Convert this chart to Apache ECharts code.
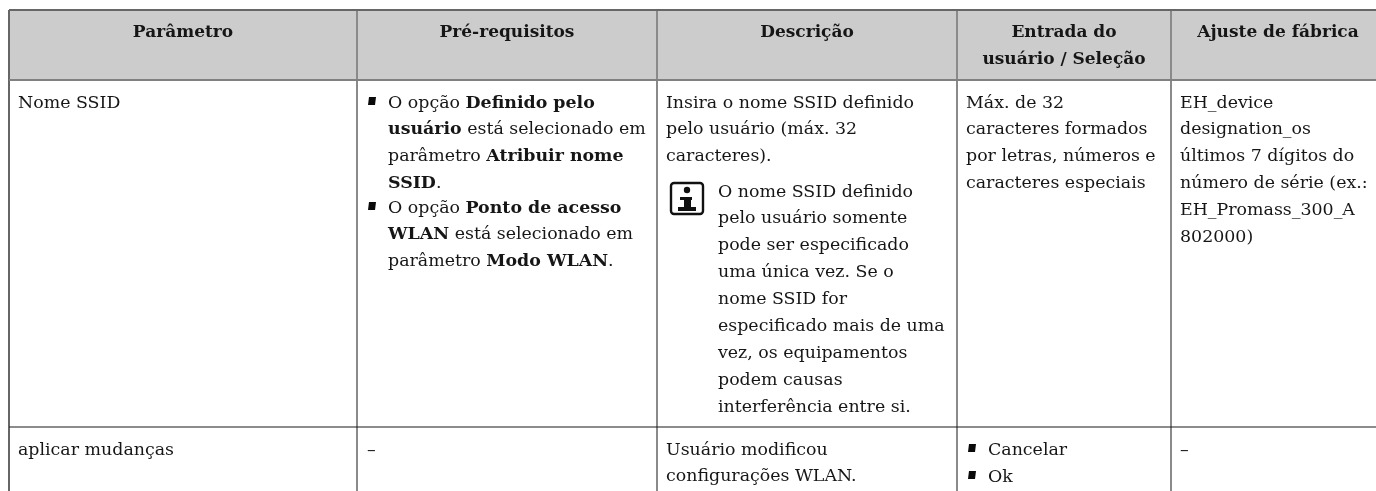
<!DOCTYPE html>
<html>
<head>
<meta charset="utf-8">
<style>
  html, body { margin: 0; padding: 0; background: #fff; }
  #main { width: 1376px; height: 491px; }
</style>
</head>
<body>
<div id="main"></div>
<script src="https://cdn.jsdelivr.net/npm/echarts@6/dist/echarts.min.js"></script>
<script>
// ================= table text =================
const headerParam = ['Parâmetro']
const headerPre = ['Pré-requisitos']
const headerDesc = ['Descrição']
const headerInput = ['Entrada do', 'usuário / Seleção']
const headerFactory = ['Ajuste de fábrica']

const ssidParam = ['Nome SSID']
const ssidPreFirst = ['O opção {b|Definido pelo}', '{b|usuário} está selecionado em', 'parâmetro {b|Atribuir nome}', '{b|SSID}.']
const ssidPreSecond = ['O opção {b|Ponto de acesso}', '{b|WLAN} está selecionado em', 'parâmetro {b|Modo WLAN}.']
const ssidDesc = ['Insira o nome SSID definido', 'pelo usuário (máx. 32', 'caracteres).']
const ssidNote = ['O nome SSID definido', 'pelo usuário somente', 'pode ser especificado', 'uma única vez. Se o', 'nome SSID for', 'especificado mais de uma', 'vez, os equipamentos', 'podem causas', 'interferência entre si.']
const ssidInput = ['Máx. de 32', 'caracteres formados', 'por letras, números e', 'caracteres especiais']
const ssidFactory = ['EH_device', 'designation_os', 'últimos 7 dígitos do', 'número de série (ex.:', 'EH_Promass_300_A', '802000)']

const applyParam = ['aplicar mudanças']
const applyPre = ['–']
const applyDesc = ['Usuário modificou', 'configurações WLAN.']
const applyInputFirst = ['Cancelar']
const applyInputSecond = ['Ok']
const applyFactory = ['–']

// ================= layout =================
const colEdges = [9, 357, 657, 957, 1171, 1376]
const rowEdges = [10, 80, 427, 491]
const lineHeight = 26.9
const fontFamily = '"DejaVu Serif", serif'
const headSize = 17
const bodySize = 17.4
const textColor = '#161616'

// 每个文字块：行数组、起始 x、首行 y、对齐、是否带项目符号
const blocks = [
  { lines: headerParam, x: 183, y: 33, align: 'center', bold: true },
  { lines: headerPre, x: 507, y: 33, align: 'center', bold: true },
  { lines: headerDesc, x: 807, y: 33, align: 'center', bold: true },
  { lines: headerInput, x: 1064, y: 33, align: 'center', bold: true },
  { lines: headerFactory, x: 1278, y: 33, align: 'center', bold: true },
  { lines: ssidParam, x: 18, y: 103 },
  { lines: ssidPreFirst, x: 388, y: 103, bullet: 368 },
  { lines: ssidPreSecond, x: 388, y: 208, bullet: 368 },
  { lines: ssidDesc, x: 666, y: 103 },
  { lines: ssidNote, x: 718, y: 192 },
  { lines: ssidInput, x: 966, y: 103 },
  { lines: ssidFactory, x: 1180, y: 103 },
  { lines: applyParam, x: 18, y: 450 },
  { lines: applyPre, x: 367, y: 450 },
  { lines: applyDesc, x: 666, y: 450 },
  { lines: applyInputFirst, x: 988, y: 450, bullet: 968 },
  { lines: applyInputSecond, x: 988, y: 477, bullet: 968 },
  { lines: applyFactory, x: 1180, y: 450 },
]

const noteIcon = { x: 671, y: 183, w: 32, h: 31 }

function renderTable(params, api) {
  const pt = (x, y) => api.coord([x, y])
  const children = []
  const rect = (x, y, w, h, fill, r) => {
    const p = pt(x, y)
    children.push({ type: 'rect', shape: { x: p[0], y: p[1], width: w, height: h, r: r || 0 }, style: { fill: fill } })
  }
  const line = (x1, y1, x2, y2, color, width) => {
    const a = pt(x1, y1)
    const b = pt(x2, y2)
    children.push({ type: 'line', shape: { x1: a[0], y1: a[1], x2: b[0], y2: b[1] }, style: { stroke: color, lineWidth: width } })
  }
  const right = colEdges[colEdges.length - 1]
  const bottom = rowEdges[rowEdges.length - 1]

  // 表头底色和表格线
  rect(colEdges[0], rowEdges[0], right - colEdges[0], rowEdges[1] - rowEdges[0], '#cccccc')
  colEdges.slice(1, 5).forEach((x) => line(x, rowEdges[0], x, bottom, '#8a8a8a', 2))
  line(colEdges[0], rowEdges[0], colEdges[0], bottom, '#666666', 2)
  line(colEdges[0], rowEdges[0], right, rowEdges[0], '#666666', 2)
  line(colEdges[0], rowEdges[1], right, rowEdges[1], '#808080', 2)
  line(colEdges[0], rowEdges[2], right, rowEdges[2], '#1a1a1a', 1.2)

  // 文字
  blocks.forEach((b) => {
    b.lines.forEach((text, i) => {
      const p = pt(b.x, b.y + i * lineHeight)
      const size = b.bold ? headSize : bodySize
      children.push({
        type: 'text',
        style: {
          x: p[0],
          y: p[1],
          text: text,
          fill: textColor,
          fontFamily: fontFamily,
          fontSize: size,
          fontWeight: b.bold ? 'bold' : 'normal',
          align: b.align || 'left',
          verticalAlign: 'middle',
          rich: { b: { fontFamily: fontFamily, fontSize: size, fontWeight: 'bold', fill: textColor } },
        },
      })
    })
    if (b.bullet) {
      // 项目符号略带倾斜
      const c = pt(b.bullet, b.y - 2)
      children.push({
        type: 'polygon',
        shape: { points: [[c[0] + 1, c[1] - 4], [c[0] + 8, c[1] - 4], [c[0] + 7, c[1] + 4], [c[0], c[1] + 4]] },
        style: { fill: '#0a0a0a' },
      })
    }
  })

  // 提示图标
  const ic = noteIcon
  const o = pt(ic.x, ic.y)
  children.push({
    type: 'rect',
    shape: { x: o[0], y: o[1], width: ic.w, height: ic.h, r: 3 },
    style: { fill: 'none', stroke: '#111111', lineWidth: 2.4 },
  })
  children.push({ type: 'circle', shape: { cx: o[0] + 16, cy: o[1] + 7, r: 3.2 }, style: { fill: '#111111' } })
  rect(ic.x + 9, ic.y + 14, 12, 3, '#111111')
  rect(ic.x + 13, ic.y + 14, 7, 12, '#111111')
  rect(ic.x + 7, ic.y + 24, 18, 4, '#111111')

  return { type: 'group', children: children }
}

const chart = echarts.init(document.getElementById('main'), null, { renderer: 'canvas' })
chart.setOption({
  animation: false,
  backgroundColor: '#ffffff',
  grid: { left: 0, right: 0, top: 0, bottom: 0 },
  xAxis: { type: 'value', min: 0, max: 1376, show: false },
  yAxis: { type: 'value', min: 0, max: 491, inverse: true, show: false },
  series: [
    {
      type: 'custom',
      coordinateSystem: 'cartesian2d',
      clip: false,
      silent: true,
      renderItem: renderTable,
      data: [[0, 0]],
    },
  ],
})
</script>
</body>
</html>
